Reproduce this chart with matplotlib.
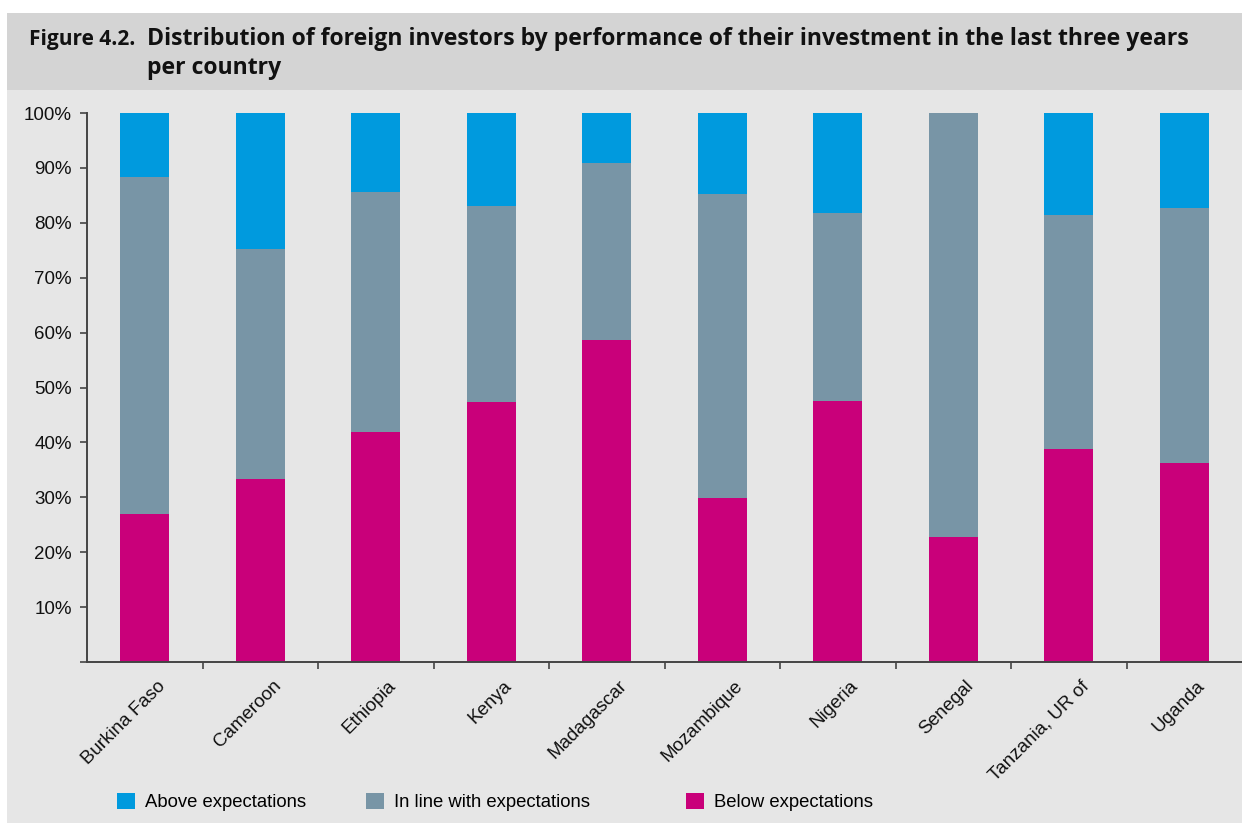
import matplotlib.pyplot as plt
import matplotlib.transforms as mtransforms
from matplotlib.patches import Rectangle, Patch

# Share of foreign investors by how their investment performed (percent)
countries = ['Burkina Faso', 'Cameroon', 'Ethiopia', 'Kenya', 'Madagascar',
             'Mozambique', 'Nigeria', 'Senegal', 'Tanzania, UR of', 'Uganda']
below = [27.0, 33.3, 41.9, 47.4, 58.7, 29.9, 47.5, 22.8, 38.8, 36.2]
in_line = [61.3, 41.9, 43.7, 35.7, 32.2, 55.3, 34.3, 77.2, 42.6, 46.5]
above = [11.7, 24.8, 14.4, 16.9, 9.1, 14.8, 18.2, 0.0, 18.6, 17.3]

series = ['Above expectations', 'In line with expectations', 'Below expectations']
colors = {'Above expectations': '#009ade',
          'In line with expectations': '#7895a6',
          'Below expectations': '#c9007a'}

plt.rcParams['font.family'] = ['Liberation Sans', 'DejaVu Sans']

W, H = 1242, 823
fig = plt.figure(figsize=(W / 100, H / 100), dpi=100)
fig.patch.set_facecolor('white')

# background panels
fig.add_artist(Rectangle((7 / W, 0), 1, 1 - 90 / H, transform=fig.transFigure,
                         facecolor='#e6e6e6', edgecolor='none', zorder=0))
fig.add_artist(Rectangle((7 / W, 1 - 90 / H), 1, 77 / H, transform=fig.transFigure,
                         facecolor='#d4d4d4', edgecolor='none', zorder=0))

title_font = ['Open Sans', 'DejaVu Sans']
fig.text(29 / W, 1 - 39 / H, 'Figure 4.2.', fontsize=15, fontweight='bold',
         family=title_font, va='center', color='#111111')
fig.text(147 / W, 1 - 39 / H, 'Distribution of foreign investors by performance of their '
         'investment in the last three years', fontsize=16.6, fontweight='bold',
         family=title_font, va='center', color='#111111')
fig.text(147 / W, 1 - 68 / H, 'per country', fontsize=16.6, fontweight='bold',
         family=title_font, va='center', color='#111111')

ax = fig.add_axes([87 / W, 1 - 662 / H, 1 - 87 / W, (662 - 113) / H])
ax.set_facecolor('none')

x = range(len(countries))
bw = 0.42
ax.bar(x, below, bw, color=colors['Below expectations'])
ax.bar(x, in_line, bw, bottom=below, color=colors['In line with expectations'])
ax.bar(x, above, bw, bottom=[b + m for b, m in zip(below, in_line)],
       color=colors['Above expectations'])

ax.set_xlim(-0.5, len(countries) - 0.5)
ax.set_ylim(0, 100)
ax.set_yticks(range(0, 101, 10))
ax.set_yticklabels([''] + [f'{v}%' for v in range(10, 101, 10)], fontsize=13.5,
                   color='#111111')

# category ticks sit between the bars, labels under the bars
ax.set_xticks([i + 0.5 for i in range(len(countries) - 1)])
ax.set_xticklabels([])
ax.set_xticks(list(x), minor=True)
ax.set_xticklabels(countries, minor=True, rotation=45, ha='right',
                   rotation_mode='anchor', fontsize=13.5, color='#111111')
ax.tick_params(axis='x', which='minor', length=0, pad=11)
ax.tick_params(axis='x', which='major', length=5, width=1.2, color='#444444')
ax.tick_params(axis='y', length=5, width=1.2, color='#444444', pad=6)
offset = mtransforms.ScaledTranslation(0.12, 0, fig.dpi_scale_trans)
for lab in ax.get_xticklabels(minor=True):
    lab.set_transform(lab.get_transform() + offset)

for side in ['top', 'right']:
    ax.spines[side].set_visible(False)
for side in ['left', 'bottom']:
    ax.spines[side].set_color('#444444')
    ax.spines[side].set_linewidth(1.4)

# legend entries spread along the bottom
legend_x = [117, 366, 686]
for name, lx in zip(series, legend_x):
    fig.legend(handles=[Patch(facecolor=colors[name], edgecolor='none')],
               labels=[name], loc='center left',
               bbox_to_anchor=(lx / W, 1 - 802 / H), frameon=False,
               fontsize=13.3, handlelength=0.95, handleheight=1.0,
               handletextpad=0.55, borderaxespad=0, borderpad=0)

fig.savefig('out.png', dpi=100)
